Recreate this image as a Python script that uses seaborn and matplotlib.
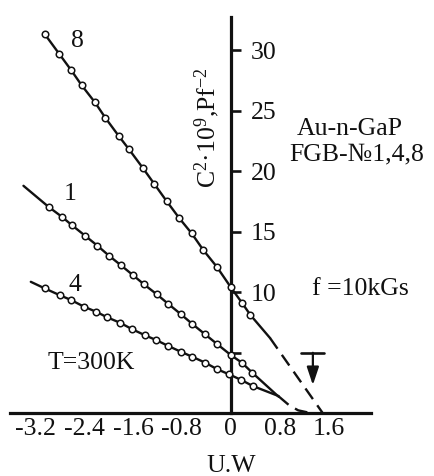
import numpy as np
import pandas as pd
import matplotlib
matplotlib.use("Agg")
import matplotlib.pyplot as plt
import seaborn as sns

# ---------------- data ----------------
# curve 8
c8_x = [-3.04, -2.81, -2.61, -2.44, -2.22, -2.05, -1.83, -1.67, -1.44, -1.25,
        -1.05, -0.84, -0.64, -0.45, -0.23, 0.00, 0.18, 0.32]
c8_y = [31.32, 29.73, 28.35, 27.11, 25.68, 24.40, 22.89, 21.84, 20.27, 18.93,
        17.52, 16.09, 14.85, 13.47, 12.09, 10.39, 9.12, 8.10]
c8_line_start = (-3.04, 31.32)
c8_line_end = (0.64, 6.20)
c8_dash_x = [0.64, 1.50]
c8_dash_y = [6.20, 0.00]

# curve 1
c1_x = [-2.98, -2.76, -2.60, -2.38, -2.18, -1.99, -1.80, -1.60, -1.42, -1.21,
        -1.02, -0.82, -0.63, -0.42, -0.22, 0.00, 0.18, 0.35]
c1_y = [17.05, 16.22, 15.54, 14.65, 13.83, 13.00, 12.23, 11.40, 10.64, 9.81,
        9.01, 8.18, 7.36, 6.50, 5.68, 4.79, 4.16, 3.33]
c1_line_start = (-3.39, 18.79)
c1_line_end = (0.78, 1.35)

# curve 4
c4_x = [-3.04, -2.80, -2.61, -2.40, -2.20, -2.02, -1.81, -1.61, -1.40, -1.22,
        -1.03, -0.82, -0.63, -0.42, -0.22, -0.03, 0.17, 0.36]
c4_y = [10.30, 9.75, 9.34, 8.79, 8.37, 7.91, 7.46, 6.92, 6.42, 6.03,
        5.56, 5.07, 4.65, 4.16, 3.61, 3.20, 2.73, 2.23]
c4_line_start = (-3.27, 10.85)
c4_line_end = (0.78, 1.40)

# common dashed tail of curves 1 and 4
c14_dash_x = [0.78, 0.95, 1.10, 1.30]
c14_dash_y = [1.38, 0.65, 0.22, 0.00]

# arrow marker (cut-off voltage)
arrow_x = 1.34
arrow_top = 4.98
arrow_tip = 2.31
bar_x = [1.15, 1.53]

xticks = [-3.2, -2.4, -1.6, -0.8, 0.0, 0.8, 1.6]
xticklabels = ["-3.2", "-2.4", "-1.6", "-0.8", "0", "0.8", "1.6"]
yticks = [5, 10, 15, 20, 25, 30]
yticklabels = ["", "10", "15", "20", "25", "30"]

# ---------------- style ----------------
sns.set_theme(style="white")
plt.rcParams["font.family"] = ["Liberation Serif", "DejaVu Serif"]
plt.rcParams["mathtext.fontset"] = "custom"
plt.rcParams["mathtext.rm"] = "Liberation Serif"
plt.rcParams["mathtext.it"] = "Liberation Serif:italic"
plt.rcParams["mathtext.default"] = "regular"
plt.rcParams["axes.unicode_minus"] = False

INK = "#111111"
FS = 18.5

fig = plt.figure(figsize=(4.34, 4.76), dpi=100)
ax = fig.add_axes([10 / 434, 63 / 476, 361 / 434, 396 / 476])
ax.set_facecolor("white")
fig.patch.set_facecolor("white")


def build(xs, ys, start, end):
    px = [start[0]] + list(xs) + [end[0]]
    py = [start[1]] + list(ys) + [end[1]]
    return pd.DataFrame({"x": px, "y": py})


for xs, ys, st, en in [(c8_x, c8_y, c8_line_start, c8_line_end),
                       (c1_x, c1_y, c1_line_start, c1_line_end),
                       (c4_x, c4_y, c4_line_start, c4_line_end)]:
    df = build(xs, ys, st, en)
    sns.lineplot(data=df, x="x", y="y", ax=ax, color=INK, lw=1.7,
                 estimator=None, sort=False, zorder=2)

for dx, dy in [(c8_dash_x, c8_dash_y), (c14_dash_x, c14_dash_y)]:
    df = pd.DataFrame({"x": dx, "y": dy})
    sns.lineplot(data=df, x="x", y="y", ax=ax, color=INK, lw=1.7,
                 estimator=None, sort=False, zorder=2, dashes=False)
    ax.lines[-1].set_dashes((5.5, 3.2))

for xs, ys in [(c8_x, c8_y), (c1_x, c1_y), (c4_x, c4_y)]:
    sns.scatterplot(x=xs, y=ys, ax=ax, s=22, facecolor="white",
                    edgecolor=INK, linewidth=1.1, zorder=3)

# arrow with bar
ax.plot(bar_x, [arrow_top, arrow_top], color=INK, lw=1.9)
ax.annotate("", xy=(arrow_x, arrow_tip), xytext=(arrow_x, arrow_top),
            arrowprops=dict(arrowstyle="-|>,head_length=0.9,head_width=0.3",
                            color=INK, lw=1.6, shrinkA=0, shrinkB=0))

# axes
ax.set_xlim(-3.61, 2.29)
ax.set_ylim(0, 32.75)
ax.spines["left"].set_visible(False)
ax.spines["top"].set_visible(False)
ax.spines["right"].set_position(("data", 0))
ax.spines["bottom"].set_position(("data", 0))
for s in ("right", "bottom"):
    ax.spines[s].set_linewidth(2.3)
    ax.spines[s].set_color(INK)

ax.yaxis.set_ticks_position("right")
ax.set_yticks(yticks)
ax.set_yticklabels(yticklabels)
ax.tick_params(axis="y", direction="out", length=7, width=1.9, color=INK,
               labelsize=FS, pad=7.5, labelcolor=INK)
ax.set_xticks(xticks)
ax.set_xticklabels(xticklabels)
ax.tick_params(axis="x", direction="in", length=7, width=1.9, color=INK,
               labelsize=FS, pad=3.5, labelcolor=INK)
ax.set_xlabel("")
ax.set_ylabel("")

# labels
ax.text(0.0, -0.105, "U.W", transform=ax.get_xaxis_transform(),
        ha="center", va="top", fontsize=FS, color=INK)
fig.text(207 / 434, 1 - 128 / 476, "C$^{2}$·10$^{9}$,Pf$^{-2}$",
         rotation=90, ha="center", va="center", fontsize=FS, color=INK)

ax.text(-2.62, 30.27, "8", fontsize=FS, color=INK, va="baseline")
ax.text(-2.74, 17.6, "1", fontsize=FS, color=INK, va="baseline")
ax.text(-2.66, 10.08, "4", fontsize=FS, color=INK, va="baseline")
ax.text(-2.99, 3.64, "T=300K", fontsize=FS, color=INK, va="baseline")
ax.text(1.08, 22.98, "Au-n-GaP", fontsize=FS, color=INK, va="baseline")
ax.text(0.96, 20.9, "FGB-№1,4,8", fontsize=FS, color=INK, va="baseline",
        family=["Liberation Serif", "DejaVu Serif"])
ax.text(1.32, 9.75, "f =10kGs", fontsize=FS, color=INK, va="baseline")

fig.savefig("out.png", dpi=100)
